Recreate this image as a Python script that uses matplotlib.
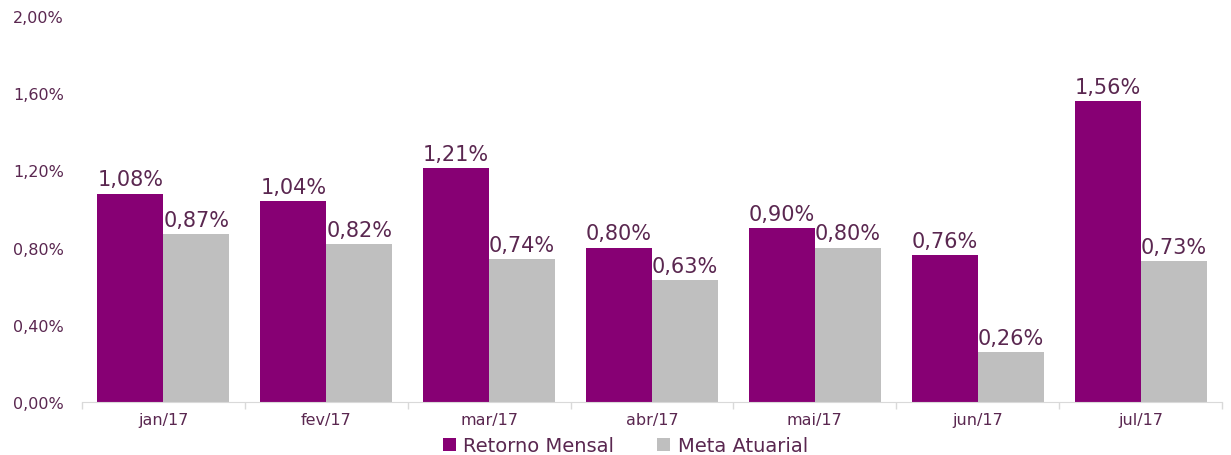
import matplotlib
matplotlib.use("Agg")
import matplotlib.pyplot as plt
import numpy as np

months = ["jan/17", "fev/17", "mar/17", "abr/17", "mai/17", "jun/17", "jul/17"]
retorno = [1.08, 1.04, 1.21, 0.80, 0.90, 0.76, 1.56]
meta = [0.87, 0.82, 0.74, 0.63, 0.80, 0.26, 0.73]
yticks = [0.0, 0.4, 0.8, 1.2, 1.6, 2.0]

purple = "#870074"
gray = "#bfbfbf"
text_col = "#5a2750"

plt.rcParams["font.family"] = ["DejaVu Sans"]

fig = plt.figure(figsize=(12.31, 4.56), dpi=100)
ax = fig.add_axes([0.0666, 0.1162, 0.9261, 0.8465])

x = np.arange(len(months))
w = 0.405
b1 = ax.bar(x - w / 2, retorno, w, color=purple, label="Retorno Mensal")
b2 = ax.bar(x + w / 2, meta, w, color=gray, label="Meta Atuarial")

def fmt(v):
    return f"{v:.2f}%".replace(".", ",")

# value labels above each bar
for bars, vals in ((b1, retorno), (b2, meta)):
    for rect, v in zip(bars, vals):
        ax.annotate(fmt(v), (rect.get_x() + rect.get_width() / 2, v),
                    xytext=(0, 3), textcoords="offset points",
                    ha="center", va="bottom", fontsize=15, color=text_col)

ax.set_xlim(-0.5, len(months) - 0.5)
ax.set_ylim(0, 2.0)
ax.set_yticks(yticks)
ax.set_yticklabels([fmt(v) for v in yticks], color=text_col, fontsize=11.5)
ax.set_xticks(x)
ax.set_xticklabels(months, color=text_col, fontsize=11.5)
ax.set_xticks(np.arange(len(months) + 1) - 0.5, minor=True)
ax.tick_params(axis="x", which="major", length=0, pad=7)
ax.tick_params(axis="x", which="minor", length=5, color="#d9d9d9", width=1)
ax.tick_params(axis="y", length=0, pad=13)

for s in ("top", "right", "left"):
    ax.spines[s].set_visible(False)
ax.spines["bottom"].set_color("#d9d9d9")

leg = fig.legend(loc="center", bbox_to_anchor=(0.508, 0.02), ncol=2,
                 frameon=False, fontsize=14, handlelength=0.65, handleheight=0.65,
                 columnspacing=2.2, handletextpad=0.4, borderpad=0)
for t in leg.get_texts():
    t.set_color(text_col)

fig.savefig("out.png", dpi=100)
